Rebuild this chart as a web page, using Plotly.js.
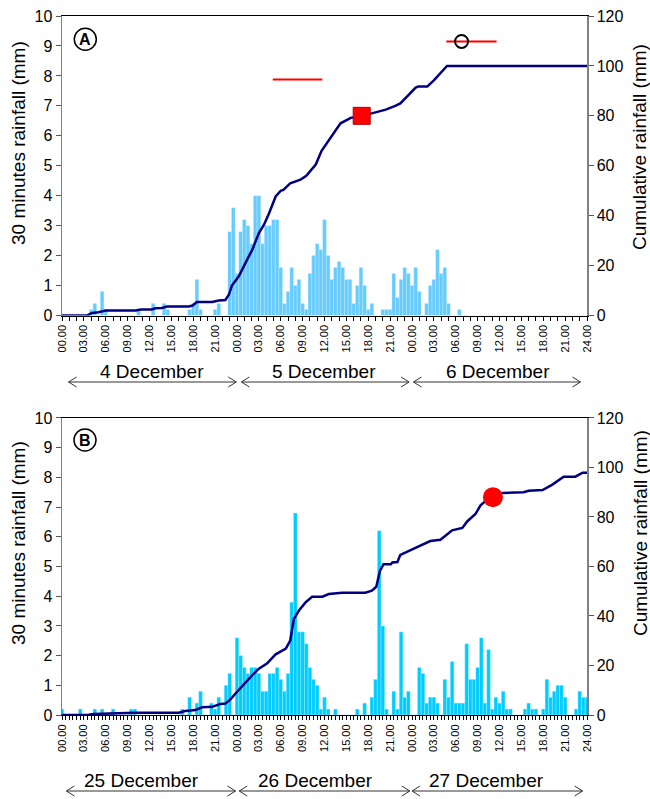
<!DOCTYPE html>
<html><head><meta charset="utf-8">
<script src="https://cdn.plot.ly/plotly-3.0.1.min.js"></script>
<style>html,body{margin:0;padding:0;background:#fff}#chart{width:650px;height:799px}</style>
</head><body><div id="chart"></div>
<script>
// ---- tick labels (every 3 hours over 3 days) ----
const tickHours = [0,3,6,9,12,15,18,21,24,27,30,33,36,39,42,45,48,51,54,57,60,63,66,69,72];
const tickLabels = ["00.00","03.00","06.00","09.00","12.00","15.00","18.00","21.00",
                    "00.00","03.00","06.00","09.00","12.00","15.00","18.00","21.00",
                    "00.00","03.00","06.00","09.00","12.00","15.00","18.00","21.00","24.00"];
const daysA = ["4 December","5 December","6 December"];
const daysB = ["25 December","26 December","27 December"];

// ---- 30-minute rainfall (mm), one value per half hour, 00.00 day 1 ... 24.00 day 3 ----
const rainA = [
 0,0,0,0,0,0,0,0,0.2,0.4,0,0.8,
 0.2,0,0,0,0,0,0,0,0,0.2,0,0,
 0,0.4,0,0,0.4,0.2,0,0,0,0,0,0.2,
 0.4,1.2,0.2,0,0,0,0.2,0.4,0,0,2.8,3.6,
 1.4,2.8,3.2,3.0,2.4,4.0,4.0,2.4,3.0,3.0,3.2,3.2,
 1.6,0.4,0.8,1.6,1.0,1.2,0.4,0.2,1.4,2.0,2.4,2.2,
 3.2,2.0,1.2,1.6,1.8,1.6,1.2,1.2,0.4,1.0,1.6,1.0,
 0.2,0.4,0,0,0.2,0.2,0.2,1.4,0.6,1.2,1.6,1.4,
 1.0,1.6,0.8,0,0.4,1.0,1.2,2.2,1.4,1.6,0.4,0,
 0,0.2,0,0,0,0,0,0,0,0,0,0,
 0,0,0,0,0,0,0,0,0,0,0,0,
 0,0,0,0,0,0,0,0,0,0,0,0,
 0];
const rainB = [
 0.2,0,0,0,0,0.2,0,0,0,0.2,0,0.2,
 0,0,0.2,0,0,0,0,0.2,0.2,0,0,0,
 0,0,0,0,0,0,0,0,0,0.2,0,0.6,
 0,0.4,0.8,0,0,0.4,0.2,0.6,0,1.0,1.4,0,
 2.6,2.0,1.6,1.4,1.6,1.6,1.4,0.8,0.8,1.4,1.4,1.6,
 1.2,0.8,1.4,3.8,6.8,2.8,2.8,2.4,1.6,1.2,1.0,0.2,
 0.6,0.2,0,0.2,0,0,0,0,0,0.2,0,0.4,
 0,0.6,1.2,6.2,3.0,0.2,0,0.8,0.2,2.8,0.6,0.8,
 0,0,1.6,1.4,0.4,0.6,0.6,0.4,0,1.2,0.6,1.8,
 0.4,0.4,0.4,2.4,1.2,1.2,1.6,2.6,0.4,2.2,0.2,0.6,
 0.4,0.8,0.2,0.2,0,0,0,0.2,0.4,0.2,0.2,0,
 0.2,1.2,0.6,0.8,1.0,1.0,0.6,0,0,0.2,0.8,0.6,
 0.6];
const halfHours = rainA.map((_, i) => i * 0.5);

// ---- cumulative rainfall (mm) ----
const cumA_t = [0,3.4,4.1,5.0,6.0,10.1,10.8,12.3,12.8,13.7,14.4,17.4,17.9,18.5,20.6,21.5,22.4,22.9,23.3,24.25,25.2,26.1,27.0,27.7,28.4,29.3,30.0,30.4,31.3,32.7,33.5,34.8,35.6,37.0,38.2,39.6,41.1,43.0,44.4,45.7,46.4,48.5,48.9,50.1,51.0,52.8,72];
const cumA_v = [0,0,1.0,1.3,2.0,2.0,2.4,2.4,2.9,3.0,3.6,3.6,4.0,5.4,5.4,6.0,6.2,8.4,12,15.7,21.3,26.4,33,36.4,41,47.7,50,50.4,53,54.4,56,60.5,66,72,77,79.2,80,81.4,82.5,84,85,91.3,91.8,91.8,94.2,100,100];
const cumB_t = [0,3.5,4.3,6.9,10,16,16.9,18.3,19.2,20.6,21.7,22.4,23.1,23.8,24.3,25.2,26.1,27.0,28.1,29.3,30.7,31.3,31.8,32.5,33.4,34.3,35.7,36.6,38.4,41.6,42.5,43.1,43.6,44.1,45.1,45.3,46.0,46.4,47.1,49.2,50.5,51.9,53.5,54.9,55.6,56.7,57.4,58.3,59.2,60.4,63.3,64.0,65.9,67.2,68.8,70.4,71.4,72];
const cumB_v = [0,0,0.4,0.7,0.9,0.9,1.6,2.0,3.1,3.3,4.4,4.6,6.3,8.7,10.3,13.4,16.1,18.7,20.8,24.5,26.8,30.1,38.8,42.2,45.5,47.8,47.8,48.9,49.4,49.4,50.2,51.8,58.2,60.9,60.9,61.6,61.8,64.7,65.6,68.3,70.3,70.8,74.6,75.6,78.3,81.2,84.7,87,88.4,89.7,90,90.6,90.9,93,96.3,96.3,97.9,97.9];

// ---- event markers ----
const markA_square = {t:[41.1], v:[80]};
const markA_range1 = {t:[28.9,35.7], v:[94.6,94.6]};
const markA_range2 = {t:[52.7,59.6], v:[109.8,109.8]};
const markA_circle = {t:[54.8], v:[109.8]};
const markB_circle = {t:[59.1], v:[88]};

const FONT = "Arial, 'Liberation Sans', sans-serif";
const NAVY = "#000080";

const traces = [
  {type:"bar", x:halfHours, y:rainA, width:0.5, xaxis:"x", yaxis:"y",
   marker:{color:"#66CCFF", line:{color:"rgba(200,235,255,0.8)", width:0.5}}, hoverinfo:"skip"},
  {type:"scatter", mode:"lines", x:cumA_t, y:cumA_v, xaxis:"x", yaxis:"y2",
   line:{color:NAVY, width:2.5}},
  {type:"scatter", mode:"lines", x:markA_range1.t, y:markA_range1.v, xaxis:"x", yaxis:"y2",
   line:{color:"#FF0000", width:2}},
  {type:"scatter", mode:"lines", x:markA_range2.t, y:markA_range2.v, xaxis:"x", yaxis:"y2",
   line:{color:"#FF0000", width:2}},
  {type:"scatter", mode:"markers", x:markA_square.t, y:markA_square.v, xaxis:"x", yaxis:"y2",
   marker:{symbol:"square", size:17, color:"#FF0000", line:{color:"#B00000", width:1}}},
  {type:"scatter", mode:"markers", x:markA_circle.t, y:markA_circle.v, xaxis:"x", yaxis:"y2",
   marker:{symbol:"circle-open", size:13, color:"#000", line:{color:"#000", width:2}}},

  {type:"bar", x:halfHours, y:rainB, width:0.5, xaxis:"x2", yaxis:"y3",
   marker:{color:"#00CCFF", line:{color:"rgba(180,240,255,0.8)", width:0.5}}, hoverinfo:"skip"},
  {type:"scatter", mode:"lines", x:cumB_t, y:cumB_v, xaxis:"x2", yaxis:"y4",
   line:{color:NAVY, width:2.5}},
  {type:"scatter", mode:"markers", x:markB_circle.t, y:markB_circle.v, xaxis:"x2", yaxis:"y4",
   marker:{symbol:"circle", size:20, color:"#FF0000"}}
];

function xAxis(anchor, minorStep){
  const mv = [];
  for (let h = 0; h <= 72 + 1e-9; h += minorStep) mv.push(h);
  return {
    domain:[0,1], anchor:anchor, range:[0,72], showgrid:false, zeroline:false,
    showline:true, linecolor:"#000", linewidth:1, mirror:true,
    tickmode:"array", tickvals:tickHours, ticktext:tickLabels, tickangle:-90,
    ticks:"outside", ticklen:4, tickcolor:"#000", tickwidth:1,
    tickfont:{family:FONT, size:11, color:"#000"},
    minor:{tickmode:"array", tickvals:mv, ticks:"outside", ticklen:4, tickcolor:"#000", tickwidth:1, showgrid:false},
    fixedrange:true
  };
}
function yLeft(domain){
  return {domain:domain, range:[0,10], tickmode:"linear", tick0:0, dtick:1,
    showgrid:false, zeroline:false, showline:true, linecolor:"#808080", linewidth:1.5,
    ticks:"outside", ticklen:5, tickcolor:"#555", tickfont:{family:FONT, size:16, color:"#000"}};
}
function yRight(over, anchor){
  return {overlaying:over, anchor:anchor, side:"right", range:[0,120], tickmode:"linear", tick0:0, dtick:20,
    showgrid:false, zeroline:false, showline:true, linecolor:"#808080", linewidth:1.5,
    ticks:"outside", ticklen:5, tickcolor:"#555", tickfont:{family:FONT, size:16, color:"#000"}};
}

// plot area: paper y 0 = 715px, 1 = 16px (699 px tall)
const pyA = v => (715 - v) / 699;
const pxA = v => (v - 62) / 525;

const annotations = [];
const shapes = [];
function dayRow(labels, textCenters, spans, yText, yArrow, xref){
  labels.forEach((lab, k) => {
    annotations.push({xref:xref, yref:"paper", x:textCenters[k], y:pyA(yText), text:lab, showarrow:false,
      font:{family:FONT, size:19, color:"#000"}, xanchor:"center", yanchor:"middle"});
    const [a, b] = spans[k];
    const y = pyA(yArrow), dx = 1.1, dy = 5/699;
    shapes.push({type:"path", xref:xref, yref:"paper",
      path:`M${a},${y} L${b},${y} M${a+dx},${y+dy} L${a},${y} L${a+dx},${y-dy} M${b-dx},${y+dy} L${b},${y} L${b-dx},${y-dy}`,
      line:{color:"#333", width:1}});
  });
}
dayRow(daysA, [12.3,35.9,59.8], [[0.9,23.9],[24.6,47.6],[48.2,71.1]], 372, 382, "x");
dayRow(daysB, [10.9,34.7,58.2], [[0.6,23.8],[24.3,47.7],[48.0,71.4]], 780, 791, "x2");

// axis titles
[[18,143,"30 minutes rainfall (mm)"],[640,147,"Cumulative rainfall (mm)"],
 [18,543,"30 minutes rainfall (mm)"],[640,533,"Cumulative rainfall (mm)"]].forEach(([x,y,t]) => {
  annotations.push({xref:"paper", yref:"paper", x:pxA(x), y:pyA(y), text:t, textangle:-90, showarrow:false,
    font:{family:FONT, size:19, color:"#000"}, xanchor:"center", yanchor:"middle"});
});

// circled panel letters
[[85.3,39.3,"A"],[85,440,"B"]].forEach(([x,y,t]) => {
  shapes.push({type:"circle", xref:"paper", yref:"paper", xsizemode:"pixel", ysizemode:"pixel",
    xanchor:pxA(x), yanchor:pyA(y), x0:-11, x1:11, y0:-11, y1:11, line:{color:"#000", width:1.5}});
  annotations.push({xref:"paper", yref:"paper", x:pxA(x), y:pyA(y), text:"<b>"+t+"</b>", showarrow:false,
    font:{family:FONT, size:16, color:"#000"}, xanchor:"center", yanchor:"middle"});
});

const layout = {
  width:650, height:799, margin:{l:62, r:63, t:16, b:84},
  paper_bgcolor:"#fff", plot_bgcolor:"#fff", showlegend:false, bargap:0,
  xaxis:xAxis("y", 1), xaxis2:xAxis("y3", 0.5),
  yaxis:yLeft([0.5715,1]), yaxis2:yRight("y","x"),
  yaxis3:yLeft([0,0.4249]), yaxis4:yRight("y3","x2"),
  annotations:annotations, shapes:shapes
};
Plotly.newPlot("chart", traces, layout, {staticPlot:true, displayModeBar:false});
</script>
</body></html>
